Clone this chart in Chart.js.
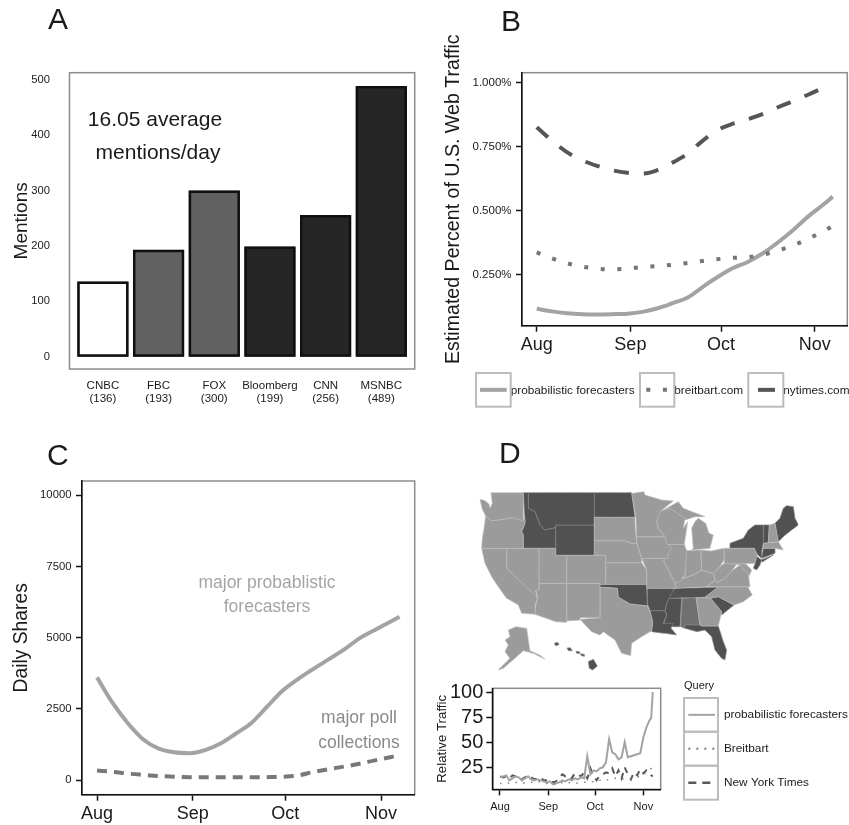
<!DOCTYPE html>
<html>
<head>
<meta charset="utf-8">
<title>Forecast media charts</title>
<script src="https://cdn.jsdelivr.net/npm/chart.js@4/dist/chart.umd.min.js"></script>
<style>
    html, body { margin: 0; padding: 0; background: #fff; }
    #page { position: relative; width: 849px; height: 825px; overflow: hidden; font-family: "Liberation Sans", Arial, sans-serif; }
    #page canvas { position: absolute; left: 0; top: 0; }
    .letter { position: absolute; font-size: 30px; line-height: 30px; color: #1a1a1a; }
</style>
</head>
<body>
<div id="page">
    <canvas id="panelA" width="849" height="825"></canvas>
    <canvas id="panelB" width="849" height="825"></canvas>
    <canvas id="panelC" width="849" height="825"></canvas>
    <canvas id="panelMap" width="849" height="825"></canvas>
    <canvas id="panelTrends" width="849" height="825"></canvas>
    <div class="letter" style="left:48px;top:4px">A</div>
    <div class="letter" style="left:501px;top:6px">B</div>
    <div class="letter" style="left:47px;top:440px">C</div>
    <div class="letter" style="left:499px;top:438px">D</div>
</div>
<script>
// Panel A: mentions per network
const networks = ["CNBC", "FBC", "FOX", "Bloomberg", "CNN", "MSNBC"];
const mentions = [136, 193, 300, 199, 256, 489];
const mentionTicks = [0, 100, 200, 300, 400, 500];

// Panels B and C share these month ticks (days since Aug 1)
const monthDays = [0, 31, 61, 92];
const monthNames = ["Aug", "Sep", "Oct", "Nov"];

// Panel B: share of web traffic, smoothed, in percent
const trafficDays = [0, 5, 10, 15, 20, 25, 30, 35, 40, 45, 50, 55, 60, 65, 70, 75, 80, 85, 90, 95, 98];
const trafficForecasters = [.118, .108, .101, .097, .096, .097, .099, .106, .12, .14, .162, .204, .243, .277, .302, .336, .379, .427, .48, .526, .556];
const trafficBreitbart = [.338, .315, .296, .283, .275, .272, .275, .281, .285, .29, .297, .305, .312, .317, .32, .33, .346, .366, .392, .422, .441];
const trafficNytimes = [.827, .775, .73, .698, .676, .659, .649, .646, .66, .689, .725, .775, .817, .841, .859, .88, .906, .93, .955, .982];
const trafficTicks = [0.25, 0.5, 0.75, 1];

// Panel C: daily shares, smoothed
const shareDays = [0, 5, 10, 15, 20, 25, 30, 35, 40, 45, 50, 55, 60, 65, 70, 75, 80, 85, 90, 95, 98];
const shareForecasters = [3610, 2720, 2000, 1430, 1110, 980, 950, 1060, 1290, 1640, 2010, 2570, 3130, 3540, 3900, 4240, 4580, 4976, 5270, 5560, 5735];
const sharePolls = [340, 300, 235, 190, 150, 125, 110, 105, 105, 105, 105, 110, 125, 170, 290, 390, 480, 580, 700, 810, 888];
const shareTicks = [0, 2500, 5000, 7500, 10000];

// Panel D: relative search traffic
const searchDays = [0, 2, 4, 6, 8, 10, 12, 14, 16, 18, 20, 22, 24, 26, 28, 30, 32, 34, 36, 38, 40, 42, 44, 46, 48, 50, 52, 54, 56, 58, 60, 62, 64, 66, 68, 70, 72, 74, 76, 78, 80, 82, 84, 86, 88, 90, 92, 94, 96, 97, 98];
const searchForecasters = [15, 16, 17, 12, 14, 16, 15, 12, 14, 16, 13, 12, 13, 12, 11, 10, 11, 8, 9, 10, 12, 11, 13, 12, 14, 13, 15, 14, 36, 18, 22, 21, 24, 25, 30, 53, 40, 38, 33, 35, 50, 35, 36, 37, 38, 39, 55, 65, 72, 74, 100];
const searchBreitbart = [9, 9, 10, 9, 9, 10, 9, 10, 9, 10, 10, 11, 10, 11, 10, 9, 9, 8, 9, 8, 10, 9, 10, 9, 10, 9, 10, 10, 10, 10, 11, 10, 12, 13, 12, 13, 14, 14, 13, 14, 13, 13, 14, 15, 16, 15, 18, 20, 22, 24, 26];
const searchNytimes = [16, 15, 16, 14, 17, 16, 14, 13, 15, 17, 15, 13, 14, 15, 12, 12, 13, 10, 11, 15, 18, 16, 17, 14, 19, 18, 16, 20, 14, 24, 16, 12, 17, 18, 20, 19, 24, 16, 22, 14, 25, 18, 13, 20, 17, 23, 19, 22, 19, 17, 16];
const searchTicks = [25, 50, 75, 100];

// Panel D map: outlines, as x,y pairs in map units
const midStates = {
    WA: [78,38, 175,38, 175,122, 140,113, 100,120, 80,122, 62,108, 52,88, 45,58, 60,62, 72,72, 75,85, 82,70],
    OR: [62,108, 80,122, 100,120, 140,113, 180,118, 180,130, 170,155, 175,165, 175,205, 50,205, 52,175, 58,140],
    CA: [50,205, 125,205, 125,265, 218,352, 210,378, 212,403, 170,400, 160,375, 125,355, 100,320, 80,290, 60,250],
    NV: [125,205, 222,205, 222,330, 212,330, 215,352, 125,265],
    UT: [222,205, 272,205, 272,226, 305,226, 305,310, 222,310],
    CO: [305,226, 422,226, 422,313, 405,313, 405,310, 305,310],
    AZ: [222,310, 305,310, 305,427, 272,425, 210,403, 212,378, 218,352, 212,330, 222,330],
    NM: [305,310, 405,310, 405,413, 345,413, 345,420, 305,423],
    SD: [388,112, 510,112, 510,130, 515,190, 500,190, 478,182, 388,182],
    NE: [388,182, 478,182, 500,190, 515,190, 530,235, 530,248, 422,248, 422,226, 388,226],
    KS: [422,248, 530,248, 545,270, 545,313, 422,313],
    TX: [405,322, 457,325, 460,352, 495,372, 547,378, 555,395, 563,425, 560,452, 530,470, 500,490, 497,527, 470,520, 450,480, 415,455, 405,465, 380,455, 345,418, 405,413],
    MN: [500,40, 537,35, 540,45, 590,60, 625,63, 585,95, 575,125, 580,145, 600,170, 515,170, 513,115],
    IA: [515,170, 600,170, 605,190, 620,205, 608,225, 610,235, 530,235, 515,190],
    MO: [530,235, 600,235, 595,240, 615,280, 630,310, 630,325, 545,325, 545,270],
    WI: [580,95, 615,85, 660,115, 655,145, 668,125, 658,193, 602,193, 600,170, 580,145, 575,125],
    MIU: [590,93, 640,65, 655,85, 720,110, 690,110, 660,120, 615,85],
    MIL: [680,210, 735,205, 745,165, 732,160, 722,130, 700,115, 690,125, 680,145, 685,205],
    IL: [602,193, 658,193, 665,212, 660,285, 645,305, 630,310, 615,280, 595,240, 615,205],
    IN: [662,212, 707,210, 710,270, 685,285, 655,295, 660,285],
    OH: [707,210, 740,213, 777,205, 777,240, 765,260, 745,280, 710,270],
    KY: [655,295, 685,285, 710,270, 745,280, 750,300, 725,320, 625,325, 635,305],
    WV: [745,280, 765,260, 778,250, 815,253, 800,273, 780,295, 757,307, 750,300],
    VA: [725,320, 750,300, 757,307, 780,295, 800,273, 825,255, 850,283, 855,320],
    NC: [720,352, 760,320, 848,320, 862,345, 835,365, 807,375, 760,350, 733,355],
    GA: [693,353, 735,352, 770,395, 760,438, 710,438, 705,435],
    PA: [777,205, 868,205, 877,225, 870,250, 778,253],
    MD: [778,253, 840,250, 860,270, 852,290, 825,255],
    NH: [913,135, 930,130, 940,185, 910,188],
    MA: [895,190, 940,185, 955,210, 930,205, 895,205],
    AK: [130,450, 153,440, 185,445, 195,512, 225,525, 240,538, 205,520, 175,512, 155,530, 115,565, 100,570, 135,535, 120,515, 130,495, 120,480, 135,470]
};
const darkStates = {
    ID: [175,38, 190,38, 190,85, 210,95, 225,135, 240,150, 272,143, 272,205, 175,205, 175,165, 170,155, 180,130, 180,118],
    MT: [190,38, 388,38, 388,135, 272,135, 272,143, 240,150, 225,135, 210,95, 190,85],
    WY: [272,135, 388,135, 388,226, 272,226],
    ND: [388,38, 500,38, 510,112, 388,112],
    OK: [405,313, 545,313, 547,378, 520,375, 495,372, 460,352, 457,325, 405,322],
    AR: [547,325, 630,325, 620,340, 605,370, 600,392, 555,392, 547,370],
    LA: [555,392, 600,392, 605,405, 595,430, 625,430, 618,445, 635,465, 600,460, 560,455, 563,425],
    MS: [610,355, 650,355, 645,440, 620,440, 597,428, 605,405, 600,392, 605,370],
    TN: [630,325, 760,322, 720,352, 605,355],
    SC: [733,355, 760,350, 807,375, 770,405, 770,395],
    FL: [660,435, 705,435, 710,438, 760,438, 775,485, 785,510, 780,540, 770,535, 750,510, 740,470, 720,450, 695,455, 660,445],
    NY: [795,190, 835,175, 850,150, 870,135, 895,135, 895,190, 890,215, 890,235, 873,220, 868,205, 795,205],
    LI: [888,240, 925,225, 892,246],
    NJ: [870,225, 890,240, 885,255, 875,270, 865,265, 870,252],
    CT: [895,205, 930,205, 930,220, 890,235],
    VT: [895,135, 913,135, 910,188, 895,190],
    ME: [930,130, 945,115, 955,85, 965,77, 985,80, 990,115, 1000,135, 980,150, 955,170, 940,185, 935,160],
    HI1: [370,545, 385,538, 397,558, 383,570, 373,565],
    HI2: [268,490, 278,487, 282,494, 272,497],
    HI3: [306,504, 316,503, 322,512, 310,512],
    HI4: [333,514, 343,515, 345,521, 335,520],
    HI5: [347,521, 358,523, 358,529, 349,527]
};
const alabama = [652,355, 693,353, 705,435, 660,435, 660,445, 647,440];

const SANS = '"Liberation Sans", Arial, sans-serif';
const font = (size) => ({ family: SANS, size: size });

// Places the plot area at fixed page pixels, since all canvases cover the page
function placePlot(box, axisLeft, axisBelow) {
    return {
        padding: {
            left: box.left - axisLeft,
            top: box.top,
            right: 849 - box.right,
            bottom: 825 - box.bottom - axisBelow
        }
    };
}

function makeXY(xs, ys) {
    return ys.map((y, i) => ({ x: xs[i], y: y }));
}

function makeShape(flat, color, edge) {
    const points = [];
    for (let i = 0; i < flat.length; i += 2) {
        points.push({ x: flat[i], y: flat[i + 1] });
    }
    points.push({ x: flat[0], y: flat[1] });
    return {
        data: points,
        showLine: true,
        fill: 'shape',
        backgroundColor: color,
        borderColor: edge,
        borderWidth: 0.7,
        pointRadius: 0,
        // zero tension would use the fast path, which merges points by x
        tension: 0.001
    };
}

// Frame around the plot, notes and legend keys are all drawn in page pixels
const extras = {
    id: 'extras',
    beforeDraw(chart, args, opts) {
        if (opts.frame) {
            const a = chart.chartArea;
            chart.ctx.save();
            chart.ctx.strokeStyle = opts.frame;
            chart.ctx.lineWidth = 1.5;
            chart.ctx.strokeRect(a.left, a.top, a.right - a.left, a.bottom - a.top);
            chart.ctx.restore();
        }
    },
    afterDraw(chart, args, opts) {
        const ctx = chart.ctx;
        ctx.save();
        (opts.notes || []).forEach(n => {
            ctx.font = n.size + 'px ' + SANS;
            ctx.fillStyle = n.color;
            ctx.textAlign = n.align || 'center';
            ctx.textBaseline = 'middle';
            ctx.fillText(n.text, n.x, n.y);
        });
        (opts.keys || []).forEach(k => {
            ctx.strokeStyle = '#bcbcbc';
            ctx.lineWidth = 2;
            ctx.setLineDash([]);
            ctx.strokeRect(k.x, k.y, k.w, k.h);
            ctx.strokeStyle = k.color;
            ctx.lineWidth = k.width;
            ctx.setLineDash(k.dash || []);
            ctx.beginPath();
            ctx.moveTo(k.x1, k.y + k.h / 2);
            ctx.lineTo(k.x2, k.y + k.h / 2);
            ctx.stroke();
        });
        ctx.restore();
    }
};

function blackAxis(size, pad, ticks, labels, extra) {
    return Object.assign({
        type: 'linear',
        border: { display: true, color: '#111', width: 1.5 },
        grid: { display: true, drawOnChartArea: false, drawTicks: true, tickLength: 6, tickWidth: 1.5, tickColor: '#111' },
        ticks: {
            font: font(size),
            color: '#1a1a1a',
            padding: pad,
            autoSkip: false,
            maxRotation: 0,
            callback: (v) => labels[ticks.indexOf(v)]
        },
        afterBuildTicks: (s) => { s.ticks = ticks.map(v => ({ value: v })); }
    }, extra);
}

function fixedSize(prop, size) {
    return (s) => { s[prop] = size; };
}

const baseOptions = {
    responsive: false,
    animation: false,
    events: []
};

// Panel A
const barPoints = makeXY(networks.map((n, i) => i), mentions);
new Chart(document.getElementById('panelA'), {
    type: 'bar',
    data: {
        datasets: [
            // solid copy underneath, hides the seam between bar border and fill
            {
                data: barPoints,
                backgroundColor: '#101010',
                borderWidth: 0,
                grouped: false,
                order: 2,
                barPercentage: 0.92,
                categoryPercentage: 1
            },
            {
                data: barPoints,
                backgroundColor: ['#ffffff', '#616161', '#616161', '#262626', '#262626', '#262626'],
                borderColor: '#101010',
                borderWidth: 2.5,
                borderSkipped: false,
                grouped: false,
                order: 1,
                barPercentage: 0.92,
                categoryPercentage: 1
            }
        ]
    },
    options: {
        ...baseOptions,
        layout: placePlot({ left: 69.5, right: 414.7, top: 72.7, bottom: 369 }, 59, 40),
        scales: {
            x: {
                type: 'linear', min: -0.6, max: 5.6, offset: false,
                border: { display: false },
                grid: { display: false },
                ticks: {
                    font: { family: SANS, size: 11.5, lineHeight: 1.1 },
                    color: '#1a1a1a',
                    padding: 3,
                    autoSkip: false,
                    maxRotation: 0,
                    callback: (v) => [networks[v], '(' + mentions[v] + ')']
                },
                afterBuildTicks: (s) => { s.ticks = networks.map((n, i) => ({ value: i })); },
                afterFit: fixedSize('height', 40)
            },
            y: {
                type: 'linear', min: -22.2, max: 513,
                border: { display: false },
                grid: { display: false },
                title: { display: true, text: 'Mentions', font: font(19), color: '#1a1a1a', padding: 0 },
                ticks: { font: font(11.2), color: '#1a1a1a', padding: 11.5, autoSkip: false },
                afterBuildTicks: (s) => { s.ticks = mentionTicks.map(v => ({ value: v })); },
                afterFit: fixedSize('width', 59)
            }
        },
        plugins: {
            legend: { display: false },
            tooltip: { enabled: false },
            extras: {
                frame: '#8c8c8c',
                notes: [
                    { text: '16.05 average', x: 155, y: 120, size: 21, color: '#1a1a1a' },
                    { text: 'mentions/day', x: 158, y: 153, size: 21, color: '#1a1a1a' }
                ]
            }
        }
    },
    plugins: [extras]
});

// Panel B
new Chart(document.getElementById('panelB'), {
    type: 'scatter',
    data: {
        datasets: [
            { data: makeXY(trafficDays, trafficBreitbart), showLine: true, pointRadius: 0, borderColor: '#757575', borderWidth: 4, borderDash: [4, 12.6], cubicInterpolationMode: 'monotone' },
            { data: makeXY(trafficDays, trafficForecasters), showLine: true, pointRadius: 0, borderColor: '#a3a3a3', borderWidth: 4, cubicInterpolationMode: 'monotone' },
            { data: makeXY(trafficDays, trafficNytimes), showLine: true, pointRadius: 0, borderColor: '#565656', borderWidth: 4, borderDash: [15, 15], cubicInterpolationMode: 'monotone' }
        ]
    },
    options: {
        ...baseOptions,
        layout: placePlot({ left: 522, right: 847.3, top: 72.7, bottom: 325.7 }, 80, 40),
        scales: {
            x: blackAxis(18, 3, monthDays, monthNames, { min: -4.87, max: 102.8, afterFit: fixedSize('height', 40) }),
            y: blackAxis(11.5, 4.5, trafficTicks, ['0.250%', '0.500%', '0.750%', '1.000%'], {
                min: 0.052, max: 1.04,
                title: { display: true, text: 'Estimated Percent of U.S. Web Traffic', font: font(19.6), color: '#1a1a1a', padding: 0 },
                afterFit: fixedSize('width', 80)
            })
        },
        plugins: {
            legend: { display: false },
            tooltip: { enabled: false },
            extras: {
                frame: '#8c8c8c',
                notes: [
                    { text: 'probabilistic forecasters', x: 510.7, y: 390.7, size: 11.8, color: '#1a1a1a', align: 'left' },
                    { text: 'breitbart.com', x: 674.3, y: 390.7, size: 11.8, color: '#1a1a1a', align: 'left' },
                    { text: 'nytimes.com', x: 783.3, y: 390.7, size: 11.8, color: '#1a1a1a', align: 'left' }
                ],
                keys: [
                    { x: 476, y: 373, w: 34.7, h: 33.7, x1: 480, x2: 506.7, color: '#a3a3a3', width: 4 },
                    { x: 640, y: 373, w: 34.3, h: 33.7, x1: 646.3, x2: 668, color: '#757575', width: 4, dash: [4, 12.6] },
                    { x: 748.3, y: 373, w: 35, h: 33.7, x1: 758, x2: 775, color: '#565656', width: 4 }
                ]
            }
        }
    },
    plugins: [extras]
});

// Panel C
new Chart(document.getElementById('panelC'), {
    type: 'scatter',
    data: {
        datasets: [
            { data: makeXY(shareDays, shareForecasters), showLine: true, pointRadius: 0, borderColor: '#a3a3a3', borderWidth: 4, cubicInterpolationMode: 'monotone' },
            { data: makeXY(shareDays, sharePolls), showLine: true, pointRadius: 0, borderColor: '#787878', borderWidth: 4, borderDash: [10, 7], cubicInterpolationMode: 'monotone' }
        ]
    },
    options: {
        ...baseOptions,
        layout: placePlot({ left: 82, right: 414.7, top: 481, bottom: 794.7 }, 71.5, 30),
        scales: {
            x: blackAxis(18, 3, monthDays, monthNames, { min: -4.86, max: 102.9, afterFit: fixedSize('height', 30) }),
            y: blackAxis(11.3, 4.5, shareTicks, shareTicks.map(String), {
                min: -505, max: 10494,
                title: { display: true, text: 'Daily Shares', font: font(19.3), color: '#1a1a1a', padding: 0 },
                afterFit: fixedSize('width', 71.5)
            })
        },
        plugins: {
            legend: { display: false },
            tooltip: { enabled: false },
            extras: {
                frame: '#8c8c8c',
                notes: [
                    { text: 'major probablistic', x: 267, y: 583, size: 17.5, color: '#a5a5a5' },
                    { text: 'forecasters', x: 267, y: 607, size: 17.5, color: '#a5a5a5' },
                    { text: 'major poll', x: 359, y: 718, size: 17.5, color: '#8a8a8a' },
                    { text: 'collections', x: 359, y: 743, size: 17.5, color: '#8a8a8a' }
                ]
            }
        }
    },
    plugins: [extras]
});

// Panel D map
new Chart(document.getElementById('panelMap'), {
    type: 'scatter',
    data: {
        datasets: [
            ...Object.values(midStates).map(s => makeShape(s, '#9b9b9b', '#bdbdbd')),
            ...Object.values(darkStates).map(s => makeShape(s, '#515151', '#858585')),
            makeShape(alabama, '#707070', '#858585')
        ]
    },
    options: {
        ...baseOptions,
        layout: { padding: { left: 465, top: 480, right: 849 - 798.33, bottom: 825 - 680 } },
        scales: {
            x: { type: 'linear', min: 0, max: 1000, display: false },
            y: { type: 'linear', min: 0, max: 600, reverse: true, display: false }
        },
        plugins: { legend: { display: false }, tooltip: { enabled: false } }
    }
});

// Panel D line chart
new Chart(document.getElementById('panelTrends'), {
    type: 'scatter',
    data: {
        datasets: [
            { data: makeXY(searchDays, searchBreitbart), showLine: true, pointRadius: 0, borderColor: '#7d7d7d', borderWidth: 1.5, borderDash: [1.5, 6.5] },
            { data: makeXY(searchDays, searchForecasters), showLine: true, pointRadius: 0, borderColor: '#a3a3a3', borderWidth: 2 },
            { data: makeXY(searchDays, searchNytimes), showLine: true, pointRadius: 0, borderColor: '#585858', borderWidth: 2, borderDash: [6, 6] }
        ]
    },
    options: {
        ...baseOptions,
        layout: placePlot({ left: 492.3, right: 660.7, top: 688.3, bottom: 789.3 }, 58, 25),
        scales: {
            x: blackAxis(11, 5, monthDays, monthNames, { min: -4.94, max: 103.1, afterFit: fixedSize('height', 25) }),
            y: blackAxis(20, 3, searchTicks, searchTicks.map(String), {
                min: 3.1, max: 103.7,
                title: { display: true, text: 'Relative Traffic', font: font(13.3), color: '#1a1a1a', padding: 0 },
                afterFit: fixedSize('width', 58)
            })
        },
        plugins: {
            legend: { display: false },
            tooltip: { enabled: false },
            extras: {
                frame: '#8c8c8c',
                notes: [
                    { text: 'Query', x: 684, y: 686, size: 11, color: '#1a1a1a', align: 'left' },
                    { text: 'probabilistic forecasters', x: 724, y: 714.3, size: 11.8, color: '#1a1a1a', align: 'left' },
                    { text: 'Breitbart', x: 724, y: 749, size: 11.8, color: '#1a1a1a', align: 'left' },
                    { text: 'New York Times', x: 724, y: 782.7, size: 11.8, color: '#1a1a1a', align: 'left' }
                ],
                keys: [
                    { x: 684, y: 698, w: 34, h: 33.7, x1: 688.3, x2: 715, color: '#a3a3a3', width: 2 },
                    { x: 684, y: 731.7, w: 34, h: 34, x1: 688.3, x2: 715, color: '#7d7d7d', width: 2, dash: [2, 6] },
                    { x: 684, y: 765.7, w: 34, h: 34, x1: 688.3, x2: 715, color: '#585858', width: 2.5, dash: [8, 6] }
                ]
            }
        }
    },
    plugins: [extras]
});
</script>
</body>
</html>
